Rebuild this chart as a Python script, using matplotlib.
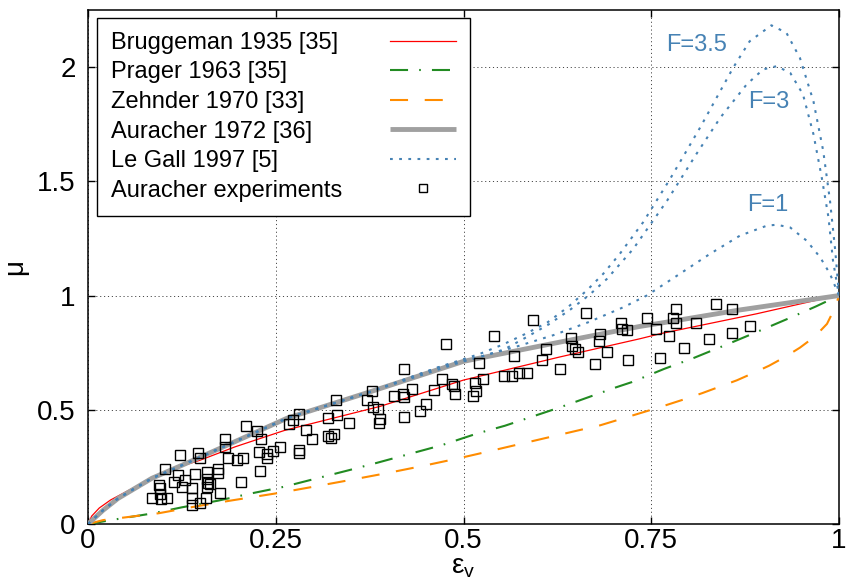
import matplotlib
matplotlib.use("Agg")
import matplotlib.pyplot as plt

plt.rcParams['font.family'] = ['Liberation Sans', 'DejaVu Sans']
plt.rcParams['mathtext.fontset'] = 'custom'
plt.rcParams['mathtext.rm'] = 'Liberation Sans'
plt.rcParams['mathtext.it'] = 'Liberation Sans:italic'
plt.rcParams['lines.scale_dashes'] = False

# ---- data ----
brug_eps = [0, 0.005, 0.015, 0.03, 0.05, 0.085, 0.129, 0.149, 0.196, 0.229, 0.262, 0.389, 0.5, 0.628, 0.735, 0.762, 0.89, 0.984, 1.0]
brug_mu = [0, 0.035, 0.07, 0.105, 0.14, 0.2, 0.258, 0.279, 0.338, 0.374, 0.41, 0.515, 0.63, 0.731, 0.811, 0.833, 0.92, 0.99, 1.0]

prag_eps = [0, 0.036, 0.087, 0.125, 0.173, 0.213, 0.261, 0.299, 0.348, 0.385, 0.433, 0.471, 0.518, 0.555, 0.617, 0.64, 0.702, 0.724, 0.768, 0.806, 0.853, 0.888, 0.933, 0.969, 1.0]
prag_mu = [0, 0.02, 0.047, 0.073, 0.102, 0.131, 0.163, 0.195, 0.236, 0.268, 0.311, 0.345, 0.396, 0.43, 0.498, 0.524, 0.597, 0.621, 0.68, 0.726, 0.789, 0.837, 0.9, 0.952, 1.0]

zehn_eps = [0, 0.02, 0.094, 0.142, 0.189, 0.256, 0.305, 0.353, 0.4, 0.447, 0.494, 0.518, 0.657, 0.682, 0.726, 0.762, 0.795, 0.818, 0.864, 0.886, 0.907, 0.928, 0.948, 0.968, 0.984, 0.995, 1.0]
zehn_mu = [0, 0.017, 0.047, 0.076, 0.102, 0.137, 0.166, 0.195, 0.224, 0.255, 0.288, 0.306, 0.413, 0.432, 0.476, 0.512, 0.547, 0.573, 0.629, 0.661, 0.693, 0.731, 0.772, 0.821, 0.876, 0.949, 1.0]

aur_eps = [0, 0.02, 0.04, 0.085, 0.125, 0.19, 0.265, 0.375, 0.5, 0.628, 0.735, 0.762, 0.868, 1.0]
aur_mu = [0, 0.06, 0.112, 0.2, 0.257, 0.352, 0.463, 0.578, 0.712, 0.796, 0.865, 0.879, 0.937, 1.0]

lg35_eps = [0, 0.02, 0.04, 0.085, 0.125, 0.19, 0.265, 0.375, 0.47, 0.522, 0.552, 0.583, 0.612, 0.64, 0.665, 0.686, 0.708, 0.739, 0.775, 0.815, 0.859, 0.881, 0.91, 0.93, 0.948, 0.966, 0.979, 0.988, 0.995, 1.0]
lg35_mu = [0, 0.06, 0.112, 0.2, 0.257, 0.352, 0.463, 0.578, 0.69, 0.745, 0.785, 0.833, 0.883, 0.952, 1.025, 1.095, 1.182, 1.32, 1.51, 1.735, 1.997, 2.113, 2.183, 2.15, 2.04, 1.85, 1.633, 1.415, 1.197, 1.0]

lg3_eps = [0, 0.02, 0.04, 0.085, 0.125, 0.19, 0.265, 0.375, 0.47, 0.522, 0.554, 0.584, 0.613, 0.642, 0.668, 0.691, 0.726, 0.771, 0.81, 0.842, 0.877, 0.899, 0.917, 0.935, 0.952, 0.966, 0.977, 0.986, 0.992, 1.0]
lg3_mu = [0, 0.06, 0.112, 0.2, 0.257, 0.352, 0.463, 0.578, 0.69, 0.731, 0.764, 0.818, 0.873, 0.938, 1.004, 1.073, 1.204, 1.415, 1.619, 1.779, 1.924, 1.99, 2.004, 1.975, 1.881, 1.706, 1.517, 1.342, 1.153, 1.0]

lg1_eps = [0, 0.02, 0.04, 0.085, 0.125, 0.19, 0.265, 0.375, 0.5, 0.571, 0.62, 0.666, 0.713, 0.744, 0.788, 0.828, 0.868, 0.904, 0.917, 0.935, 0.957, 0.975, 0.988, 1.0]
lg1_mu = [0, 0.06, 0.112, 0.2, 0.257, 0.352, 0.463, 0.578, 0.712, 0.777, 0.827, 0.883, 0.949, 1.0, 1.095, 1.182, 1.262, 1.306, 1.31, 1.298, 1.24, 1.167, 1.095, 1.0]

exp_eps = [0.085, 0.095, 0.096, 0.096, 0.097, 0.105, 0.102, 0.12, 0.115, 0.129,
           0.123, 0.125, 0.139, 0.138, 0.139, 0.149, 0.157, 0.142, 0.146, 0.149,
           0.158, 0.173, 0.173, 0.158, 0.16, 0.163, 0.159, 0.176, 0.182, 0.182,
           0.187, 0.198, 0.207, 0.204, 0.21, 0.225, 0.23, 0.228, 0.239, 0.238,
           0.246, 0.255, 0.229, 0.267, 0.273, 0.281, 0.29, 0.298, 0.281, 0.281,
           0.319, 0.327, 0.324, 0.319, 0.332, 0.347, 0.33, 0.378, 0.372, 0.379,
           0.386, 0.389, 0.387, 0.407, 0.42, 0.421, 0.432, 0.461, 0.421, 0.442,
           0.45, 0.421, 0.477, 0.471, 0.485, 0.488, 0.489, 0.515, 0.512, 0.517,
           0.521, 0.526, 0.54, 0.554, 0.564, 0.574, 0.584, 0.567, 0.593, 0.604,
           0.61, 0.628, 0.643, 0.644, 0.649, 0.653, 0.663, 0.675, 0.68, 0.682,
           0.691, 0.71, 0.711, 0.718, 0.719, 0.745, 0.756, 0.762, 0.773, 0.779,
           0.783, 0.783, 0.794, 0.81, 0.827, 0.836, 0.858, 0.858, 0.881]
exp_mu = [0.115, 0.17, 0.156, 0.13, 0.109, 0.115, 0.24, 0.214, 0.182, 0.192,
          0.304, 0.16, 0.156, 0.115, 0.083, 0.09, 0.115, 0.221, 0.311, 0.287,
          0.228, 0.239, 0.224, 0.197, 0.178, 0.173, 0.163, 0.137, 0.371, 0.335,
          0.291, 0.279, 0.287, 0.183, 0.428, 0.408, 0.374, 0.314, 0.307, 0.291,
          0.32, 0.336, 0.232, 0.436, 0.457, 0.483, 0.41, 0.374, 0.326, 0.309,
          0.384, 0.396, 0.377, 0.466, 0.476, 0.443, 0.541, 0.581, 0.541, 0.513,
          0.505, 0.459, 0.44, 0.559, 0.568, 0.556, 0.591, 0.588, 0.469, 0.496,
          0.527, 0.677, 0.786, 0.633, 0.613, 0.605, 0.571, 0.617, 0.559, 0.581,
          0.704, 0.636, 0.824, 0.646, 0.646, 0.662, 0.662, 0.734, 0.894, 0.716,
          0.766, 0.68, 0.814, 0.777, 0.767, 0.755, 0.924, 0.699, 0.8, 0.83,
          0.755, 0.879, 0.855, 0.85, 0.719, 0.901, 0.852, 0.728, 0.825, 0.903,
          0.881, 0.942, 0.772, 0.881, 0.808, 0.961, 0.942, 0.835, 0.865]

labels = ["Bruggeman 1935 [35]", "Prager 1963 [35]", "Zehnder 1970 [33]",
          "Auracher 1972 [36]", "Le Gall 1997 [5]", "Auracher experiments"]
f_labels = ["F=3.5", "F=3", "F=1"]
f_label_pos_eps = [0.811, 0.907, 0.905]
f_label_pos_mu = [2.096, 1.847, 1.397]

xticks = [0, 0.25, 0.5, 0.75, 1]
xticklabels = ["0", "0.25", "0.5", "0.75", "1"]
yticks = [0, 0.5, 1, 1.5, 2]
yticklabels = ["0", "0.5", "1", "1.5", "2"]

RED = "#ff0000"
GREEN = "#228b22"
ORANGE = "#ff8c00"
GRAY = "#a0a0a0"
BLUE = "#4682b4"

fig = plt.figure(figsize=(8.48, 5.87), dpi=100)
ax = fig.add_axes([88 / 848, 1 - 524 / 587, 751 / 848, 514 / 587])

l_red, = ax.plot(brug_eps, brug_mu, color=RED, lw=0.9, zorder=3)
l_green, = ax.plot(prag_eps, prag_mu, color=GREEN, lw=1.5,
                   linestyle=(0, (13, 8, 1.2, 8)), zorder=3)
l_orange, = ax.plot(zehn_eps, zehn_mu, color=ORANGE, lw=1.5,
                    linestyle=(0, (13, 12)), zorder=3)
l_gray, = ax.plot(aur_eps, aur_mu, color=GRAY, lw=3.5, zorder=3,
                  solid_capstyle='butt')
blue_ls = (0, (2.0, 4.6))
l_blue, = ax.plot(lg35_eps, lg35_mu, color=BLUE, lw=1.5, linestyle=blue_ls, zorder=4)
ax.plot(lg3_eps, lg3_mu, color=BLUE, lw=1.5, linestyle=blue_ls, zorder=4)
ax.plot(lg1_eps, lg1_mu, color=BLUE, lw=1.5, linestyle=blue_ls, zorder=4)
l_exp, = ax.plot(exp_eps, exp_mu, linestyle='none', marker='s', markersize=7,
                 markerfacecolor='none', markeredgecolor='black', markeredgewidth=1.0,
                 zorder=5)

for t, xe, ym in zip(f_labels, f_label_pos_eps, f_label_pos_mu):
    ax.text(xe, ym, t, color=BLUE, fontsize=17, ha='center', va='center')

ax.set_xlim(0, 1)
ax.set_ylim(0, 2.25)
ax.set_xticks(xticks)
ax.set_xticklabels(xticklabels)
ax.set_yticks(yticks)
ax.set_yticklabels(yticklabels)
ax.tick_params(axis='both', direction='in', length=5, width=1, labelsize=20,
               top=True, right=True)
ax.tick_params(axis='x', pad=3)
ax.tick_params(axis='y', pad=9)
for s in ax.spines.values():
    s.set_linewidth(1.1)

ax.grid(True, color='#444444', lw=0.7, linestyle=(0, (0.8, 2.0)))
ax.set_axisbelow(True)

ax.set_xlabel(r'$\mathrm{\varepsilon_{v}}$', fontsize=20, labelpad=0)
ax.set_ylabel('μ', fontsize=20, labelpad=6)

leg = ax.legend([l_red, l_green, l_orange, l_gray, l_blue, l_exp], labels,
                loc='upper left', bbox_to_anchor=(0.012, 0.985), borderaxespad=0,
                markerfirst=False, fontsize=17, handlelength=2.8, handletextpad=2.0,
                borderpad=0.6, labelspacing=0.32, fancybox=False, framealpha=1,
                edgecolor='black', markerscale=0.75, numpoints=1)
leg.get_frame().set_linewidth(1.0)
leg.set_zorder(10)

fig.canvas.draw()
renderer = fig.canvas.get_renderer()
widths = [t.get_window_extent(renderer).width for t in leg.get_texts()]
maxw = max(widths)
col = leg._legend_handle_box.get_children()[0]
for row, w in zip(col.get_children(), widths):
    row.sep = row.sep + (maxw - w) * 72 / fig.dpi

fig.savefig("out.png", dpi=100)
